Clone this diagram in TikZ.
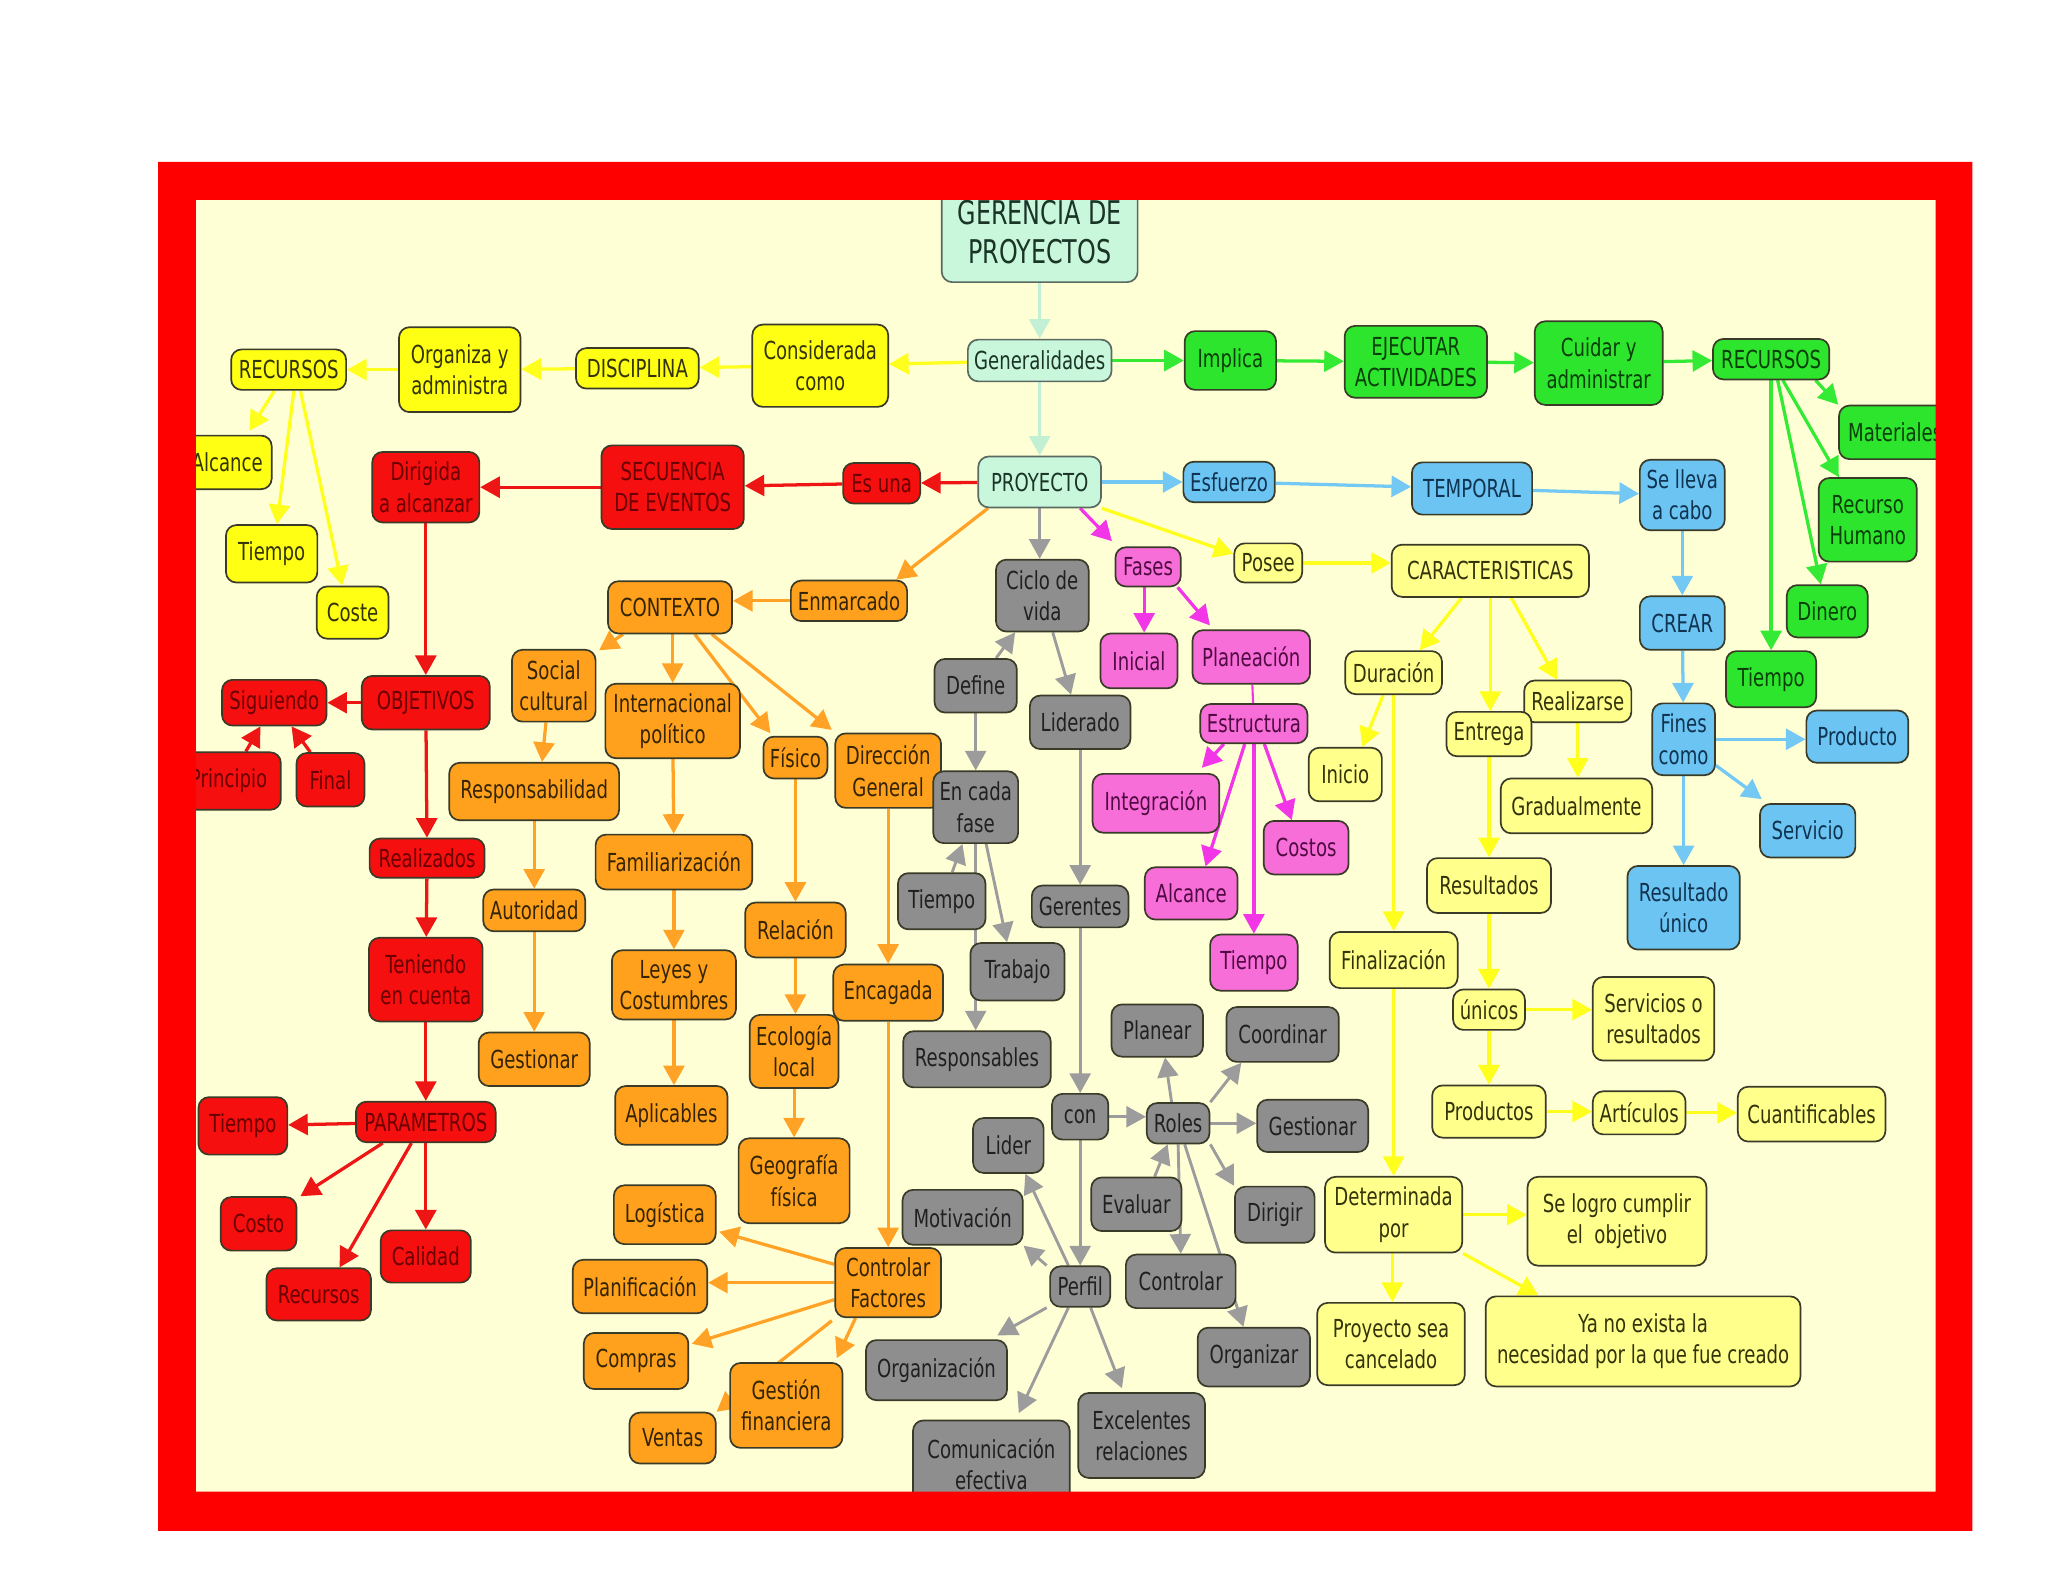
\documentclass[tikz,border=0pt]{standalone}
\usepackage{fontspec}
\setmainfont{DejaVu Sans}[FakeStretch=0.73]
\usetikzlibrary{arrows.meta,calc}
\pgfdeclarelayer{back}
\pgfdeclarelayer{edges}
\pgfdeclarelayer{front}
\pgfsetlayers{back,edges,main,front}
\definecolor{cyell}{HTML}{FFFF14}
\definecolor{clyell}{HTML}{FFFF8C}
\definecolor{cred}{HTML}{F50F0F}
\definecolor{cgreen}{HTML}{2EE52E}
\definecolor{cblue}{HTML}{6CC4F2}
\definecolor{cpink}{HTML}{F86ED8}
\definecolor{corange}{HTML}{FFA11C}
\definecolor{cgray}{HTML}{8E8E8E}
\definecolor{cmint}{HTML}{C9F7DC}
\definecolor{cream}{HTML}{FFFFD6}
\definecolor{cframe}{HTML}{FF0000}
\definecolor{tyell}{HTML}{33330A}
\definecolor{tred}{HTML}{6A0000}
\definecolor{tgreen}{HTML}{083F08}
\definecolor{tblue}{HTML}{0F3350}
\definecolor{tpink}{HTML}{500A42}
\definecolor{tbrown}{HTML}{352404}
\definecolor{tgray}{HTML}{202020}
\definecolor{tmint}{HTML}{1A3426}
\definecolor{boxline}{HTML}{3A3A28}
\definecolor{mintline}{HTML}{5A6A60}
\definecolor{eyell}{HTML}{FFFF1E}
\definecolor{ered}{HTML}{EE1515}
\definecolor{egreen}{HTML}{35EA35}
\definecolor{eblue}{HTML}{74C8F4}
\definecolor{epink}{HTML}{F235E6}
\definecolor{eorange}{HTML}{FFA226}
\definecolor{egray}{HTML}{9C9C9C}
\definecolor{emint}{HTML}{C2F0D4}
\tikzset{
  base/.style={rounded corners=8pt, draw=boxline, line width=1.3pt, inner sep=0pt, align=center, font=\fontsize{19}{24}\selectfont},
  ybox/.style={base, fill=cyell, text=tyell},
  lybox/.style={base, fill=clyell, text=tyell},
  rbox/.style={base, fill=cred, text=tred},
  gbox/.style={base, fill=cgreen, text=tgreen},
  bbox/.style={base, fill=cblue, text=tblue},
  pbox/.style={base, fill=cpink, text=tpink},
  obox/.style={base, fill=corange, text=tbrown},
  grbox/.style={base, fill=cgray, text=tgray},
  mbox/.style={base, fill=cmint, text=tmint, draw=mintline},
  lk/.style={line width=2.5pt, -{Triangle[length=15pt,width=16pt]}},
  em/.style={lk, color=emint},
  ey/.style={lk, color=eyell},
  er/.style={lk, color=ered},
  eg/.style={lk, color=egreen},
  eb/.style={lk, color=eblue},
  ep/.style={lk, color=epink},
  eo/.style={lk, color=eorange},
  egr/.style={lk, line width=2.2pt, color=egray},
}
\newcommand\mynode[7]{\node[#1,minimum width=#5pt,minimum height=#6pt] (#2) at (#3,#4) {#7};}
\begin{document}
\begin{tikzpicture}[x=1pt,y=-1pt]
\useasboundingbox (0,0) rectangle (1568,1211);
\begin{pgfonlayer}{back}
\fill[white] (0,0) rectangle (1568,1211);
\fill[cream] (150,153) rectangle (1482,1142);
\end{pgfonlayer}
% mint
\mynode{mbox,font=\fontsize{25}{30}\selectfont}{title}{796}{178}{150}{76}{GERENCIA DE\\PROYECTOS}
\mynode{mbox}{gen}{796}{276}{110}{32}{Generalidades}
\mynode{mbox}{proy}{796}{369}{94}{39}{PROYECTO}
% bright yellow
\mynode{ybox}{consid}{628}{280}{104}{63}{Considerada\\como}
\mynode{ybox}{disc}{488}{282}{94}{31}{DISCIPLINA}
\mynode{ybox}{org}{352}{283}{93}{65}{Organiza y\\administra}
\mynode{ybox}{recY}{221}{283}{88}{31}{RECURSOS}
\mynode{ybox}{alcY}{174}{354}{68}{41}{Alcance}
\mynode{ybox}{tiY}{208}{424}{70}{44}{Tiempo}
\mynode{ybox}{coste}{270}{469}{55}{40}{Coste}
% red
\mynode{rbox}{esuna}{675}{370}{59}{31}{Es una}
\mynode{rbox}{secu}{515}{373}{109}{64}{SECUENCIA\\DE EVENTOS}
\mynode{rbox}{dirig}{326}{373}{82}{54}{Dirigida\\a alcanzar}
\mynode{rbox}{objet}{326}{538}{98}{41}{OBJETIVOS}
\mynode{rbox}{sigu}{210}{538}{80}{35}{Siguiendo}
\mynode{rbox}{princ}{175}{598}{80}{44}{Principio}
\mynode{rbox}{final}{253}{597}{52}{41}{Final}
\mynode{rbox}{realiz}{327}{657}{88}{30}{Realizados}
\mynode{rbox}{tenien}{326}{750}{87}{64}{Teniendo\\en cuenta}
\mynode{rbox}{param}{326}{859}{107}{31}{PARAMETROS}
\mynode{rbox}{tiR}{186}{862}{68}{44}{Tiempo}
\mynode{rbox}{costo}{198}{937}{58}{41}{Costo}
\mynode{rbox}{recR}{244}{991}{80}{40}{Recursos}
\mynode{rbox}{calid}{326}{962}{69}{40}{Calidad}
% green
\mynode{gbox}{impl}{942}{276}{70}{45}{Implica}
\mynode{gbox}{ejec}{1084}{277}{109}{55}{EJECUTAR\\ACTIVIDADES}
\mynode{gbox}{cuid}{1224}{278}{98}{64}{Cuidar y\\administrar}
\mynode{gbox}{recG}{1356}{275}{89}{31}{RECURSOS}
\mynode{gbox}{mater}{1451}{331}{86}{41}{Materiales}
\mynode{gbox}{human}{1430}{398}{75}{64}{Recurso\\Humano}
\mynode{gbox}{diner}{1399}{468}{62}{40}{Dinero}
\mynode{gbox}{tiG}{1356}{520}{69}{43}{Tiempo}
% blue
\mynode{bbox}{esf}{941}{369}{70}{31}{Esfuerzo}
\mynode{bbox}{temp}{1127}{374}{92}{40}{TEMPORAL}
\mynode{bbox}{sell}{1288}{379}{65}{54}{Se lleva\\a cabo}
\mynode{bbox}{crear}{1288}{477}{65}{41}{CREAR}
\mynode{bbox}{fines}{1289}{566}{48}{55}{Fines\\como}
\mynode{bbox}{prod}{1422}{564}{78}{40}{Producto}
\mynode{bbox}{serv}{1384}{636}{73}{41}{Servicio}
\mynode{bbox}{resu}{1289}{695}{86}{64}{Resultado\\único}
% pink
\mynode{pbox}{fases}{879}{434}{50}{30}{Fases}
\mynode{pbox}{inic}{872}{506}{59}{42}{Inicial}
\mynode{pbox}{plan}{958}{503}{90}{41}{Planeación}
\mynode{pbox}{estr}{960}{554}{82}{30}{Estructura}
\mynode{pbox}{integ}{885}{615}{97}{45}{Integración}
\mynode{pbox}{alcP}{912}{684}{71}{40}{Alcance}
\mynode{pbox}{tiP}{960}{737}{67}{43}{Tiempo}
\mynode{pbox}{costos}{1000}{649}{65}{41}{Costos}
% light yellow
\mynode{lybox}{posee}{971}{431}{52}{30}{Posee}
\mynode{lybox}{carac}{1141}{437}{151}{40}{CARACTERISTICAS}
\mynode{lybox}{durac}{1067}{515}{74}{33}{Duración}
\mynode{lybox}{real}{1208}{537}{82}{32}{Realizarse}
\mynode{lybox}{entre}{1140}{562}{65}{34}{Entrega}
\mynode{lybox}{grad}{1207}{617}{116}{42}{Gradualmente}
\mynode{lybox}{inicio}{1030}{593}{56}{41}{Inicio}
\mynode{lybox}{result}{1140}{678}{95}{42}{Resultados}
\mynode{lybox}{finz}{1067}{735}{98}{43}{Finalización}
\mynode{lybox}{unic}{1140}{773}{55}{31}{únicos}
\mynode{lybox}{servr}{1266}{780}{93}{64}{Servicios o\\resultados}
\mynode{lybox}{produ}{1140}{851}{87}{40}{Productos}
\mynode{lybox}{artic}{1255}{852}{71}{33}{Artículos}
\mynode{lybox}{cuant}{1387}{853}{113}{42}{Cuantificables}
\mynode{lybox}{determ}{1067}{930}{105}{58}{Determinada\\por}
\mynode{lybox}{logro}{1238}{935}{137}{68}{Se logro cumplir\\el~ objetivo}
\mynode{lybox}{cancel}{1065}{1029}{113}{63}{Proyecto sea\\cancelado}
\mynode{lybox}{yano}{1258}{1027}{241}{69}{Ya no exista la\\necesidad por la que fue creado}
% orange
\mynode{obox}{enm}{650}{460}{89}{31}{Enmarcado}
\mynode{obox}{ctx}{513}{465}{95}{40}{CONTEXTO}
\mynode{obox}{social}{424}{525}{64}{55}{Social\\cultural}
\mynode{obox}{intl}{515}{552}{103}{57}{Internacional\\político}
\mynode{obox}{fis}{609}{580}{49}{32}{Físico}
\mynode{obox}{dir}{680}{590}{81}{57}{Dirección\\General}
\mynode{obox}{resp}{409}{606}{130}{44}{Responsabilidad}
\mynode{obox}{autor}{409}{697}{78}{32}{Autoridad}
\mynode{obox}{gestO}{409}{811}{85}{41}{Gestionar}
\mynode{obox}{famil}{516}{660}{120}{42}{Familiarización}
\mynode{obox}{leyes}{516}{754}{95}{53}{Leyes y\\Costumbres}
\mynode{obox}{aplic}{514}{854}{86}{45}{Aplicables}
\mynode{obox}{relac}{609}{712}{77}{42}{Relación}
\mynode{obox}{ecol}{608}{805}{68}{56}{Ecología\\local}
\mynode{obox}{geog}{608}{904}{85}{65}{Geografía\\física}
\mynode{obox}{encag}{680}{760}{84}{43}{Encagada}
\mynode{obox}{ctrlF}{680}{982}{81}{53}{Controlar\\Factores}
\mynode{obox}{logis}{509}{930}{78}{45}{Logística}
\mynode{obox}{planif}{490}{985}{103}{41}{Planificación}
\mynode{obox}{compr}{487}{1042}{80}{43}{Compras}
\mynode{obox}{venta}{515}{1101}{66}{39}{Ventas}
\mynode{obox}{gestF}{602}{1076}{86}{65}{Gestión\\financiera}
% gray
\mynode{grbox}{ciclo}{798}{456}{71}{55}{Ciclo de\\vida}
\mynode{grbox}{defin}{747}{525}{63}{41}{Define}
\mynode{grbox}{lidr}{827}{553}{77}{41}{Liderado}
\mynode{grbox}{encada}{747}{618}{65}{55}{En cada\\fase}
\mynode{grbox}{tiGr}{721}{690}{67}{43}{Tiempo}
\mynode{grbox}{trab}{779}{744}{72}{44}{Trabajo}
\mynode{grbox}{respG}{748}{811}{113}{43}{Responsables}
\mynode{grbox}{geren}{827}{694}{74}{32}{Gerentes}
\mynode{grbox}{con}{827}{855}{43}{35}{con}
\mynode{grbox}{roles}{902}{860}{48}{31}{Roles}
\mynode{grbox}{perf}{827}{985}{46}{31}{Perfil}
\mynode{grbox}{planr}{886}{789}{70}{40}{Planear}
\mynode{grbox}{coord}{982}{792}{86}{42}{Coordinar}
\mynode{grbox}{gestG}{1005}{862}{85}{40}{Gestionar}
\mynode{grbox}{dirg}{976}{930}{61}{43}{Dirigir}
\mynode{grbox}{evalu}{870}{922}{69}{41}{Evaluar}
\mynode{grbox}{contr}{904}{981}{84}{41}{Controlar}
\mynode{grbox}{organ}{960}{1039}{86}{45}{Organizar}
\mynode{grbox}{lider}{772}{877}{54}{42}{Lider}
\mynode{grbox}{motiv}{737}{932}{92}{42}{Motivación}
\mynode{grbox}{orgz}{717}{1049}{108}{46}{Organización}
\mynode{grbox}{comm}{759}{1121}{120}{67}{Comunicación\\efectiva}
\mynode{grbox}{excel}{874}{1099}{97}{65}{Excelentes\\relaciones}
\begin{pgfonlayer}{edges}
% mint
\draw[em] (title) -- (gen);
\draw[em] (gen) -- (proy);
% bright yellow
\draw[ey] (gen) -- (consid);
\draw[ey] (consid) -- (disc);
\draw[ey] (disc) -- (org);
\draw[ey] (org) -- (recY);
\draw[ey] ($(recY.south)+(-11,0)$) -- ($(alcY.north)+(17,-3)$);
\draw[ey] ($(recY.south)+(4,0)$) -- ($(tiY.north)+(4,0)$);
\draw[ey] ($(recY.south)+(9,0)$) -- ($(coste.north)+(-8,0)$);
% light yellow
\draw[ey] (proy.south east) -- ($(posee.west)+(0,-7)$);
\draw[ey] (posee.east) -- (posee.east -| carac.west);
\draw[ey] ($(carac.south)+(-22,0)$) -- ($(durac.north)+(20,0)$);
\draw[ey] (carac.south) -- (carac.south |- entre.north);
\draw[ey] ($(carac.south)+(16,0)$) -- ($(real.north)+(-16,0)$);
\draw[ey] (real.south) -- (real.south |- grad.north);
\draw[ey] ($(durac.south)+(-8,0)$) -- ($(inicio.north)+(13,0)$);
\draw[ey] (durac.south) -- (durac.south |- finz.north);
\draw[ey] (entre.south) -- (entre.south |- result.north);
\draw[ey] (result.south) -- (result.south |- unic.north);
\draw[ey] (unic.east) -- (unic.east -| servr.west);
\draw[ey] (unic.south) -- (unic.south |- produ.north);
\draw[ey] (produ.east) -- (produ.east -| artic.west);
\draw[ey] (artic.east) -- (artic.east -| cuant.west);
\draw[ey] (finz.south) -- (finz.south |- determ.north);
\draw[ey] (determ.east) -- (determ.east -| logro.west);
\draw[ey] ($(determ.south)+(-1,0)$) -- ($(determ.south |- cancel.north)+(-1,0)$);
\draw[ey] (determ.south east) -- ($(yano.north west)+(41,0)$);
% red
\draw[er] (proy) -- (esuna);
\draw[er] (esuna) -- (secu);
\draw[er] (secu) -- (dirig);
\draw[er] (dirig) -- (objet);
\draw[er] (objet) -- (sigu);
\draw[er] (princ) -- (sigu);
\draw[er] (final) -- (sigu);
\draw[er] (objet) -- (realiz);
\draw[er] (realiz) -- (tenien);
\draw[er] (tenien) -- (param);
\draw[er] (param) -- (tiR);
\draw[er] ($(param.south)+(-33,0)$) -- ($(costo.north)+(32,0)$);
\draw[er] ($(param.south)+(-11,0)$) -- ($(recR.north)+(16,0)$);
\draw[er] (param) -- (calid);
% green
\draw[eg] (gen.east) -- (gen.east -| impl.west);
\draw[eg] (impl) -- (ejec);
\draw[eg] (ejec) -- (cuid);
\draw[eg] (cuid) -- (recG);
\draw[eg] ($(recG.south)+(34,0)$) -- (mater.north west);
\draw[eg] ($(recG.south)+(9,0)$) -- ($(human.north west)+(16,0)$);
\draw[eg] ($(recG.south)+(5,0)$) -- ($(diner.north)+(-5,0)$);
\draw[eg] (recG.south) -- (recG.south |- tiG.north);
% blue
\draw[eb] (proy) -- (esf);
\draw[eb] (esf) -- (temp);
\draw[eb] (temp) -- (sell);
\draw[eb] (sell) -- (crear);
\draw[eb] (crear) -- (fines);
\draw[eb] (fines.east) -- (fines.east -| prod.west);
\draw[eb] ($(fines.east)+(0,20)$) -- ($(serv.north west)+(2,-3)$);
\draw[eb] (fines) -- (resu);
% pink
\draw[ep] ($(proy.south)+(31,0)$) -- ($(fases.north west)+(-2,-4)$);
\draw[ep] ($(fases.south)+(-3,0)$) -- ($(inic.north)+(4,0)$);
\draw[ep] ($(fases.south east)+(-3,0)$) -- ($(plan.north west)+(14,-3)$);
\draw[epink, line width=1.6pt] (plan) -- (estr);
\draw[ep] ($(estr.south)+(-23,0)$) -- ($(integ.north east)+(-14,-4)$);
\draw[ep] ($(estr.south)+(-7,0)$) -- ($(alcP.north)+(11,0)$);
\draw[ep] (estr.south) -- (estr.south |- tiP.north);
\draw[ep] ($(estr.south)+(8,0)$) -- ($(costos.north)+(-11,0)$);
% orange
\draw[eo] ($(proy.south west)+(8,0)$) -- ($(enm.north east)+(-9,0)$);
\draw[eo] (enm.west) -- (enm.west -| ctx.east);
\draw[eo] ($(ctx.south)+(-36,0)$) -- ($(social.north east)+(2,1)$);
\draw[eo] ($(ctx.south)+(2,0)$) -- (intl.north);
\draw[eo] ($(ctx.south)+(19,0)$) -- ($(fis.north west)+(6,-2)$);
\draw[eo] ($(ctx.south)+(32,0)$) -- ($(dir.north west)+(-2,-2)$);
\draw[eo] ($(social.south)+(-6,0)$) -- ($(resp.north)+(6,0)$);
\draw[eo] (resp) -- (autor);
\draw[eo] (autor) -- (gestO);
\draw[eo] (intl) -- (famil);
\draw[eo] (famil) -- (leyes);
\draw[eo] (leyes.south) -- (leyes.south |- aplic.north);
\draw[eo] (fis) -- (relac);
\draw[eo] (relac.south) -- (relac.south |- ecol.north);
\draw[eo] (ecol) -- (geog);
\draw[eo] (dir) -- (encag);
\draw[eo] (encag) -- (ctrlF);
\draw[eo] ($(ctrlF.west)+(0,-14)$) -- ($(logis.east)+(2,13)$);
\draw[eo] (ctrlF.west) -- (ctrlF.west -| planif.east);
\draw[eo] ($(ctrlF.west)+(0,13)$) -- ($(compr.north east)+(2,9)$);
\draw[eo] ($(ctrlF.south)+(-25,0)$) -- ($(gestF.north east)+(-5,-3)$);
\draw[eo] ($(ctrlF.south west)+(-2,2)$) -- (venta.north east);
% gray
\draw[egr] (proy.south) -- (proy.south |- ciclo.north);
\draw[egr] (defin) -- (ciclo);
\draw[egr] ($(ciclo.south)+(8,0)$) -- ($(lidr.north)+(-7,0)$);
\draw[egr] (defin) -- (encada);
\draw[egr] (tiGr) -- (encada);
\draw[egr] ($(encada.south)+(8,0)$) -- ($(trab.north)+(-8,0)$);
\draw[egr] (encada.south) -- (encada.south |- respG.north);
\draw[egr] (lidr) -- (geren);
\draw[egr] (geren) -- (con);
\draw[egr] (con.east) -- (con.east -| roles.west);
\draw[egr] (con) -- (perf);
\draw[egr] ($(roles.north)+(-5,0)$) -- ($(planr.south)+(6,0)$);
\draw[egr] (roles.north east) -- ($(coord.south west)+(12,0)$);
\draw[egr] (roles.east) -- (roles.east -| gestG.west);
\draw[egr] (roles.south east) -- (dirg.north west);
\draw[egr] ($(evalu.north)+(14,0)$) -- ($(roles.south)+(-8,0)$);
\draw[egr] (roles.south) -- (contr.north);
\draw[egr] ($(roles.south)+(5,0)$) -- ($(organ.north)+(-8,0)$);
\draw[egr] ($(perf.north)+(-9,0)$) -- ($(lider.south)+(13,0)$);
\draw[egr] ($(perf.north west)+(-2,0)$) -- (motiv.south east);
\draw[egr] ($(perf.south west)+(-2,0)$) -- ($(orgz.north east)+(-8,-3)$);
\draw[egr] ($(perf.south)+(-9,0)$) -- ($(comm.north)+(21,-5)$);
\draw[egr] ($(perf.south)+(8,0)$) -- ($(excel.north)+(-15,-3)$);
\end{pgfonlayer}
\begin{pgfonlayer}{front}
\fill[cframe, even odd rule] (121,124) rectangle (1510,1172) (150,153) rectangle (1482,1142);
\end{pgfonlayer}
\end{tikzpicture}
\end{document}
